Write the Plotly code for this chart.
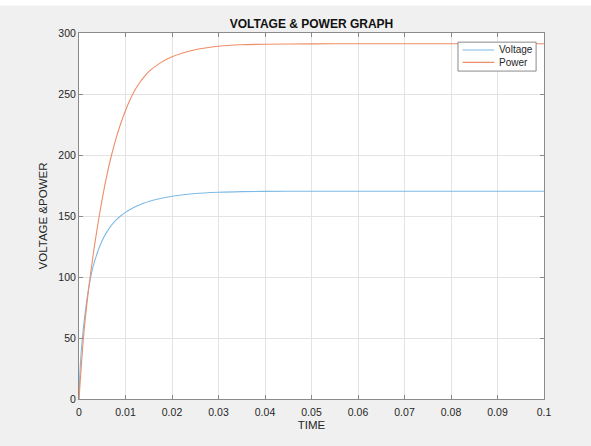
import plotly.graph_objects as go

# Data
time = [0, 0.0002, 0.0005, 0.001, 0.002, 0.003, 0.004, 0.005, 0.006, 0.007,
        0.008, 0.009, 0.01, 0.011, 0.012, 0.013, 0.014, 0.015, 0.0175, 0.02,
        0.025, 0.03, 0.035, 0.04, 0.05, 0.06, 0.07, 0.08, 0.09, 0.1]
voltage = [0, 22, 40, 60, 89, 108, 120.5, 130, 137, 142.5,
           146.8, 150.2, 153, 155.4, 157.4, 159.1, 160.6, 161.9, 164.3, 166.2,
           168.5, 169.5, 170, 170.2, 170.3, 170.3, 170.3, 170.3, 170.3, 170.3]
power = [0, 11, 27, 52, 88, 117, 142, 164, 183.5, 200,
         214, 226, 236.5, 245.5, 253, 259, 264, 268.3, 275.5, 280.5,
         286.3, 289.2, 290.4, 290.8, 291.1, 291.2, 291.2, 291.2, 291.2, 291.2]

x_ticks = [0, 0.01, 0.02, 0.03, 0.04, 0.05, 0.06, 0.07, 0.08, 0.09, 0.1]
x_tick_labels = ["0", "0.01", "0.02", "0.03", "0.04", "0.05", "0.06", "0.07", "0.08", "0.09", "0.1"]
y_ticks = [0, 50, 100, 150, 200, 250, 300]
series_names = ["Voltage", "Power"]
series_colors = ["#7dbbe6", "#ee8d66"]

FONT = "Liberation Sans, Arial, Helvetica, sans-serif"
TXT = "#262626"
EDGE = "#8a8a8a"

fig = go.Figure()
for name, vals, col in zip(series_names, [voltage, power], series_colors):
    fig.add_trace(go.Scatter(x=time, y=vals, mode="lines", name=name, showlegend=False,
                             line=dict(color=col, width=1.1, shape="spline", smoothing=0.8)))

axis_common = dict(
    showgrid=True, gridcolor="#e3e3e3", gridwidth=1,
    showline=True, linecolor=EDGE, linewidth=1, mirror="ticks",
    ticks="inside", ticklen=4, tickcolor=EDGE,
    zeroline=False, tickfont=dict(family=FONT, size=10.5, color=TXT),
)

fig.update_xaxes(range=[0, 0.1], tickvals=x_ticks, ticktext=x_tick_labels,
                 ticklabelstandoff=3,
                 title=dict(text="TIME", font=dict(family=FONT, size=11.5, color=TXT), standoff=4),
                 **axis_common)
fig.update_yaxes(range=[0, 300], tickvals=y_ticks,
                 title=dict(text="VOLTAGE &POWER", font=dict(family=FONT, size=11.5, color=TXT), standoff=8),
                 **axis_common)

# Manual legend box (MATLAB-style compact legend)
shapes = [
    dict(type="rect", xref="paper", yref="paper", x0=-0.2, x1=1.2,
         y0=1.075, y1=1.2, fillcolor="white", line=dict(width=0), layer="above"),
    dict(type="rect", xref="paper", yref="paper", x0=0.815, x1=0.983, y0=0.896, y1=0.975,
         fillcolor="white", line=dict(color=EDGE, width=1), layer="above"),
]
annotations = []
legend_y = [0.9536, 0.920]
for name, col, ly in zip(series_names, series_colors, legend_y):
    shapes.append(dict(type="line", xref="paper", yref="paper", x0=0.825, x1=0.893, y0=ly, y1=ly,
                       line=dict(color=col, width=1.2), layer="above"))
    annotations.append(dict(xref="paper", yref="paper", x=0.899, y=ly, text=name, showarrow=False,
                            xanchor="left", yanchor="middle",
                            font=dict(family=FONT, size=10, color=TXT)))

fig.update_layout(
    width=591, height=446,
    margin=dict(l=79, r=47, t=33, b=47, autoexpand=False),
    paper_bgcolor="#f0f0f0", plot_bgcolor="white",
    title=dict(text="<b>VOLTAGE & POWER GRAPH</b>", x=0.527, xanchor="center",
               y=0.946, yanchor="middle", font=dict(family=FONT, size=12, color="#111111")),
    showlegend=False,
    shapes=shapes,
    annotations=annotations,
)

fig.write_html("out.html", config={"displayModeBar": False},
               post_script="document.body.style.margin='0';")
